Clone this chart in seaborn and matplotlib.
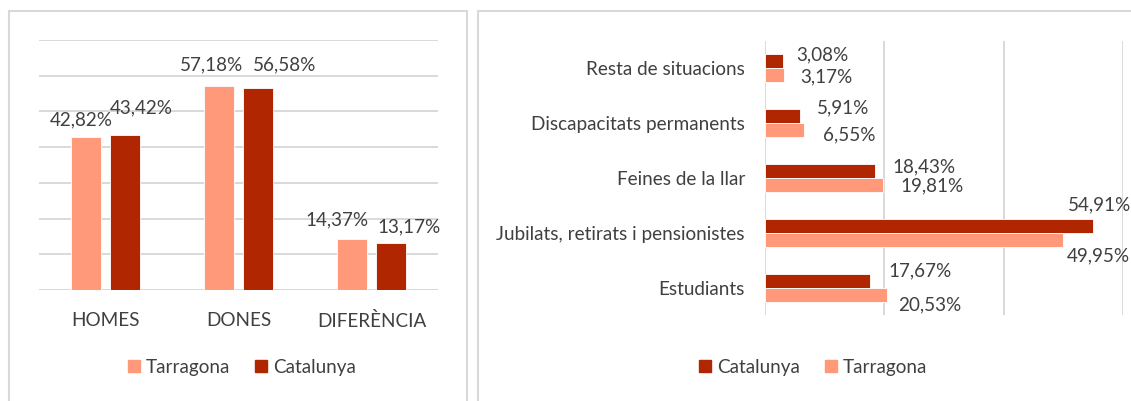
import matplotlib
matplotlib.use("Agg")
import pandas as pd
import seaborn as sns
from matplotlib import pyplot as plt
from matplotlib.patches import Patch, Rectangle

# left chart data
SEX_CATEGORIES = ["HOMES", "DONES", "DIFERÈNCIA"]
SEX_TARRAGONA = [42.82, 57.18, 14.37]
SEX_CATALUNYA = [43.42, 56.58, 13.17]

# right chart data
SITUATIONS = [
    "Resta de situacions",
    "Discapacitats permanents",
    "Feines de la llar",
    "Jubilats, retirats i pensionistes",
    "Estudiants",
]
SIT_CATALUNYA = [3.08, 5.91, 18.43, 54.91, 17.67]
SIT_TARRAGONA = [3.17, 6.55, 19.81, 49.95, 20.53]

LIGHT = "#FF997A"
DARK = "#B02600"
GRID = "#D9D9D9"
TEXT = "#404040"
FONT_SIZE = 13.6

# hand-placed label offsets in pixels (dx, dy), same order as the data
SEX_OFFSETS = {
    "Tarragona": [(-4.5, 17), (-7.5, 21), (-15.5, 19)],
    "Catalunya": [(16.5, 27), (26.5, 23), (18, 16)],
}
SIT_OFFSETS = {
    "Catalunya": [(13, 6.5), (17, 8), (17, 4), (-25, 20.5), (18, 10)],
    "Tarragona": [(16, -1), (19, -4.5), (17, -0.5), (4, -16.5), (11, -10.5)],
}


def pct(v: float) -> str:
    return f"{v:.2f}".replace(".", ",") + "%"


sns.set_style("white")
plt.rcParams["font.family"] = ["Lato", "DejaVu Sans"]
plt.rcParams["text.color"] = TEXT

fig = plt.figure(figsize=(11.31, 4.01), dpi=100)

# panel borders
fig.add_artist(Rectangle((9 / 1131, -0.05), 458 / 1131, 1.05 - 11 / 401,
                         transform=fig.transFigure, fill=False, edgecolor=GRID, lw=1.5))
fig.add_artist(Rectangle((478 / 1131, -0.05), 0.6, 1.05 - 11 / 401,
                         transform=fig.transFigure, fill=False, edgecolor=GRID, lw=1.5))

# ---- left: vertical bars ----
ax1 = fig.add_axes([39 / 1131, 1 - 290 / 401, 399 / 1131, 250 / 401])
sex_df = pd.DataFrame({
    "cat": SEX_CATEGORIES * 2,
    "value": SEX_TARRAGONA + SEX_CATALUNYA,
    "region": ["Tarragona"] * 3 + ["Catalunya"] * 3,
})
sns.barplot(data=sex_df, x="cat", y="value", hue="region",
            hue_order=["Tarragona", "Catalunya"],
            palette=[LIGHT, DARK], saturation=1, width=0.58, gap=0.22,
            edgecolor="white", linewidth=0.6, legend=False, ax=ax1)
ax1.set_xlim(-0.5, 2.5)
ax1.set_ylim(0, 70)
ax1.set_yticks(range(0, 80, 10))
ax1.set_yticklabels([])
ax1.yaxis.grid(True, color=GRID, lw=1.4)
ax1.set_axisbelow(True)
ax1.set_xlabel("")
ax1.set_ylabel("")
ax1.tick_params(axis="both", length=0)
ax1.tick_params(axis="x", pad=15.5, labelsize=FONT_SIZE, labelcolor=TEXT)
sns.despine(ax=ax1, left=True, bottom=True)

for region, container in zip(["Tarragona", "Catalunya"], ax1.containers):
    for bar, (dx, dy) in zip(container, SEX_OFFSETS[region]):
        h = bar.get_height()
        ax1.annotate(pct(h), (bar.get_x() + bar.get_width() / 2, h),
                     xytext=(dx, dy), textcoords="offset pixels",
                     ha="center", va="center", fontsize=FONT_SIZE, color=TEXT,
                     annotation_clip=False)

fig.legend(handles=[Patch(color=LIGHT, label="Tarragona"), Patch(color=DARK, label="Catalunya")],
           loc="center", bbox_to_anchor=(242 / 1131, 1 - 367 / 401), ncol=2, frameon=False,
           fontsize=FONT_SIZE, handlelength=0.65, handleheight=0.65, handletextpad=0.3,
           columnspacing=1.3, labelcolor=TEXT)

# ---- right: horizontal bars ----
ax2 = fig.add_axes([765 / 1131, 1 - 315 / 401, 358 / 1131, 274 / 401])
sit_df = pd.DataFrame({
    "cat": SITUATIONS * 2,
    "value": SIT_CATALUNYA + SIT_TARRAGONA,
    "region": ["Catalunya"] * 5 + ["Tarragona"] * 5,
})
sns.barplot(data=sit_df, y="cat", x="value", hue="region", orient="h",
            hue_order=["Catalunya", "Tarragona"],
            palette=[DARK, LIGHT], saturation=1, width=0.51,
            edgecolor="white", linewidth=0.6, legend=False, ax=ax2)
ax2.set_xlim(0, 60)
ax2.set_ylim(4.5, -0.5)
ax2.set_xticks([0, 20, 40, 60])
ax2.set_xticklabels([])
ax2.xaxis.grid(True, color=GRID, lw=1.4)
ax2.set_axisbelow(True)
ax2.set_xlabel("")
ax2.set_ylabel("")
ax2.tick_params(axis="both", length=0)
ax2.tick_params(axis="y", pad=14.4, labelsize=FONT_SIZE, labelcolor=TEXT)
sns.despine(ax=ax2, left=True, bottom=True)

for region, container in zip(["Catalunya", "Tarragona"], ax2.containers):
    for bar, (dx, dy) in zip(container, SIT_OFFSETS[region]):
        w = bar.get_width()
        ax2.annotate(pct(w), (w, bar.get_y() + bar.get_height() / 2),
                     xytext=(dx, dy), textcoords="offset pixels",
                     ha="left", va="center", fontsize=FONT_SIZE, color=TEXT,
                     annotation_clip=False)

fig.legend(handles=[Patch(color=DARK, label="Catalunya"), Patch(color=LIGHT, label="Tarragona")],
           loc="center", bbox_to_anchor=(813 / 1131, 1 - 367 / 401), ncol=2, frameon=False,
           fontsize=FONT_SIZE, handlelength=0.65, handleheight=0.65, handletextpad=0.3,
           columnspacing=1.3, labelcolor=TEXT)

fig.savefig("out.png", dpi=100)
